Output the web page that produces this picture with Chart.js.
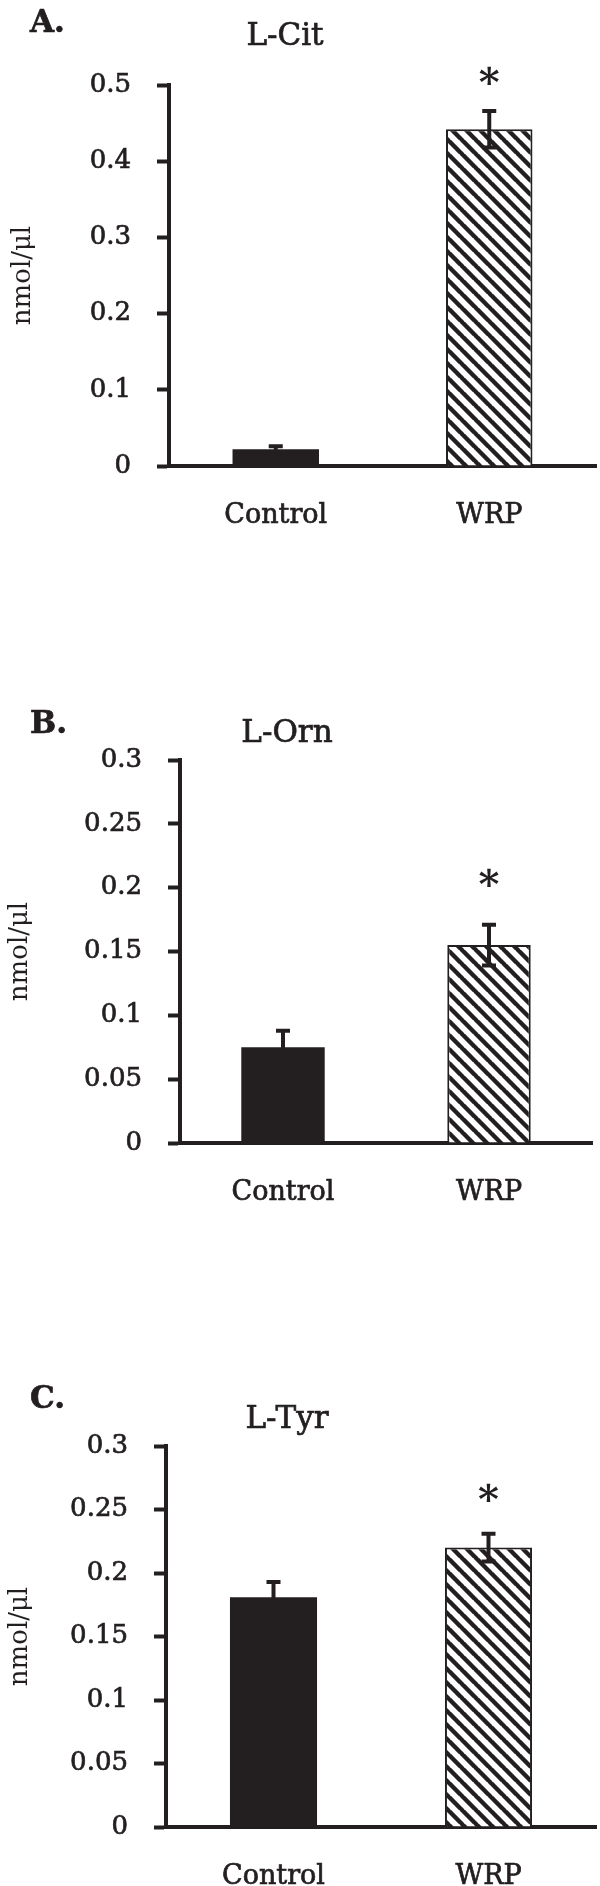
<!DOCTYPE html>
<html>
<head>
<meta charset="utf-8">
<script src="https://cdn.jsdelivr.net/npm/chart.js@4.4.1/dist/chart.umd.min.js"></script>
<style>
  html, body { margin: 0; padding: 0; background: #fff; }
  #wrap { position: relative; width: 600px; height: 1886px; overflow: hidden; }
  .panel { position: absolute; left: 0; width: 600px; }
</style>
</head>
<body>
<div id="wrap">
  <div class="panel" style="top:0"><canvas id="chartA" width="600" height="600"></canvas></div>
  <div class="panel" style="top:600px"><canvas id="chartB" width="600" height="650"></canvas></div>
  <div class="panel" style="top:1250px"><canvas id="chartC" width="600" height="636"></canvas></div>
</div>
<script>
// data (nmol/ul, mean and error)
const groups = ['Control', 'WRP'];

const citMeans = [0.022, 0.442];
const citErrors = [0.004, 0.024];
const citStars = [null, 0.513];
const citTicks = [0, 0.1, 0.2, 0.3, 0.4, 0.5];

const ornMeans = [0.075, 0.155];
const ornErrors = [0.013, 0.016];
const ornStars = [null, 0.208];
const ornTicks = [0, 0.05, 0.1, 0.15, 0.2, 0.25, 0.3];

const tyrMeans = [0.181, 0.220];
const tyrErrors = [0.012, 0.011];
const tyrStars = [null, 0.263];
const tyrTicks = [0, 0.05, 0.1, 0.15, 0.2, 0.25, 0.3];

const ink = '#231f20';
const serif = '"DejaVu Serif", "Liberation Serif", serif';

function hatch(ctx) {
    const p = 14;
    const c = document.createElement('canvas');
    c.width = p; c.height = p;
    const g = c.getContext('2d');
    g.fillStyle = '#fff';
    g.fillRect(0, 0, p, p);
    g.strokeStyle = ink;
    g.lineWidth = 4.4;
    [-p, 0, p].forEach(k => {
        g.beginPath();
        g.moveTo(k - 1, -1);
        g.lineTo(k + p + 1, p + 1);
        g.stroke();
    });
    return ctx.createPattern(c, 'repeat');
}

function heavyText(ctx, txt, x, y) {
    ctx.fillText(txt, x, y);
    ctx.strokeText(txt, x, y);
}

// error bars, asterisks, panel letter and title
const overlay = {
    id: 'overlay',
    afterDatasetsDraw(chart, args, o) {
        const { ctx, scales: { y } } = chart;
        const meta = chart.getDatasetMeta(0);
        ctx.save();
        ctx.strokeStyle = ink;
        ctx.lineWidth = 4;
        o.means.forEach((m, i) => {
            const bx = meta.data[i].x;
            const top = y.getPixelForValue(m + o.errors[i]);
            const bot = y.getPixelForValue(m - o.errors[i]);
            ctx.beginPath();
            ctx.moveTo(bx, top); ctx.lineTo(bx, bot);
            ctx.moveTo(bx - 7, top); ctx.lineTo(bx + 7, top);
            ctx.moveTo(bx - 7, bot); ctx.lineTo(bx + 7, bot);
            ctx.stroke();
        });

        ctx.fillStyle = ink;
        ctx.lineWidth = 0.7;
        ctx.textAlign = 'center';
        ctx.textBaseline = 'alphabetic';
        ctx.font = 'bold 40px ' + serif;
        o.stars.forEach((s, i) => {
            if (s == null) return;
            const tm = ctx.measureText('*');
            const off = (tm.actualBoundingBoxAscent - tm.actualBoundingBoxDescent) / 2;
            ctx.fillText('*', meta.data[i].x, y.getPixelForValue(s) + off);
        });

        ctx.font = '31px ' + serif;
        heavyText(ctx, o.title, o.titleX, o.titleY);
        ctx.textAlign = 'left';
        ctx.font = 'bold 31px ' + serif;
        heavyText(ctx, o.letter, o.letterX, o.letterY);
        ctx.restore();
    }
};

function makePanel(id, p) {
    const ctx = document.getElementById(id).getContext('2d');
    const H = ctx.canvas.height;
    return new Chart(ctx, {
        type: 'bar',
        data: {
            labels: groups,
            datasets: [{
                data: p.means,
                backgroundColor: [ink, hatch(ctx)],
                borderColor: ink,
                borderWidth: [0, 2],
                barPercentage: 0.405,
                categoryPercentage: 1
            }]
        },
        options: {
            responsive: false,
            animation: false,
            devicePixelRatio: 1,
            layout: { padding: { top: p.top, right: p.right, left: 0, bottom: 0 } },
            plugins: {
                legend: { display: false },
                tooltip: { enabled: false },
                overlay: {
                    means: p.means, errors: p.errors, stars: p.stars,
                    title: p.title, titleX: p.titleX, titleY: p.titleY,
                    letter: p.letter, letterX: 30, letterY: p.letterY
                }
            },
            scales: {
                x: {
                    grid: { display: false, drawTicks: false },
                    border: { display: true, width: 4, color: ink },
                    ticks: {
                        color: ink, padding: 34,
                        textStrokeColor: ink, textStrokeWidth: 0.7,
                        font: { family: serif, size: 27 }
                    },
                    afterFit: s => { s.height = H - p.bottom; }
                },
                y: {
                    min: 0,
                    max: p.ticks[p.ticks.length - 1],
                    afterBuildTicks: s => { s.ticks = p.ticks.map(v => ({ value: v })); },
                    afterFit: s => { s.width = p.left; },
                    grid: {
                        display: true, drawOnChartArea: false, drawTicks: true,
                        tickLength: 12, tickWidth: 4, tickColor: ink, color: ink
                    },
                    border: { display: true, width: 4, color: ink },
                    ticks: {
                        color: ink, padding: 26,
                        textStrokeColor: ink, textStrokeWidth: 0.7,
                        font: { family: serif, size: 26 },
                        callback: v => String(+v.toFixed(2))
                    },
                    title: {
                        display: true, text: 'nmol/μl', color: ink,
                        font: { family: serif, size: 26 },
                        padding: { top: p.titlePad, bottom: 0 }
                    }
                }
            }
        },
        plugins: [overlay]
    });
}

makePanel('chartA', {
    means: citMeans, errors: citErrors, stars: citStars, ticks: citTicks,
    top: 85, bottom: 466, left: 169, right: 4, titlePad: 8,
    title: 'L-Cit', titleX: 285, titleY: 45, letter: 'A.', letterY: 32
});
makePanel('chartB', {
    means: ornMeans, errors: ornErrors, stars: ornStars, ticks: ornTicks,
    top: 160, bottom: 543, left: 180, right: 8, titlePad: 5,
    title: 'L-Orn', titleX: 287, titleY: 142, letter: 'B.', letterY: 133
});
makePanel('chartC', {
    means: tyrMeans, errors: tyrErrors, stars: tyrStars, ticks: tyrTicks,
    top: 196, bottom: 577, left: 166, right: 4, titlePad: 5,
    title: 'L-Tyr', titleX: 287, titleY: 178, letter: 'C.', letterY: 158
});
</script>
</body>
</html>
